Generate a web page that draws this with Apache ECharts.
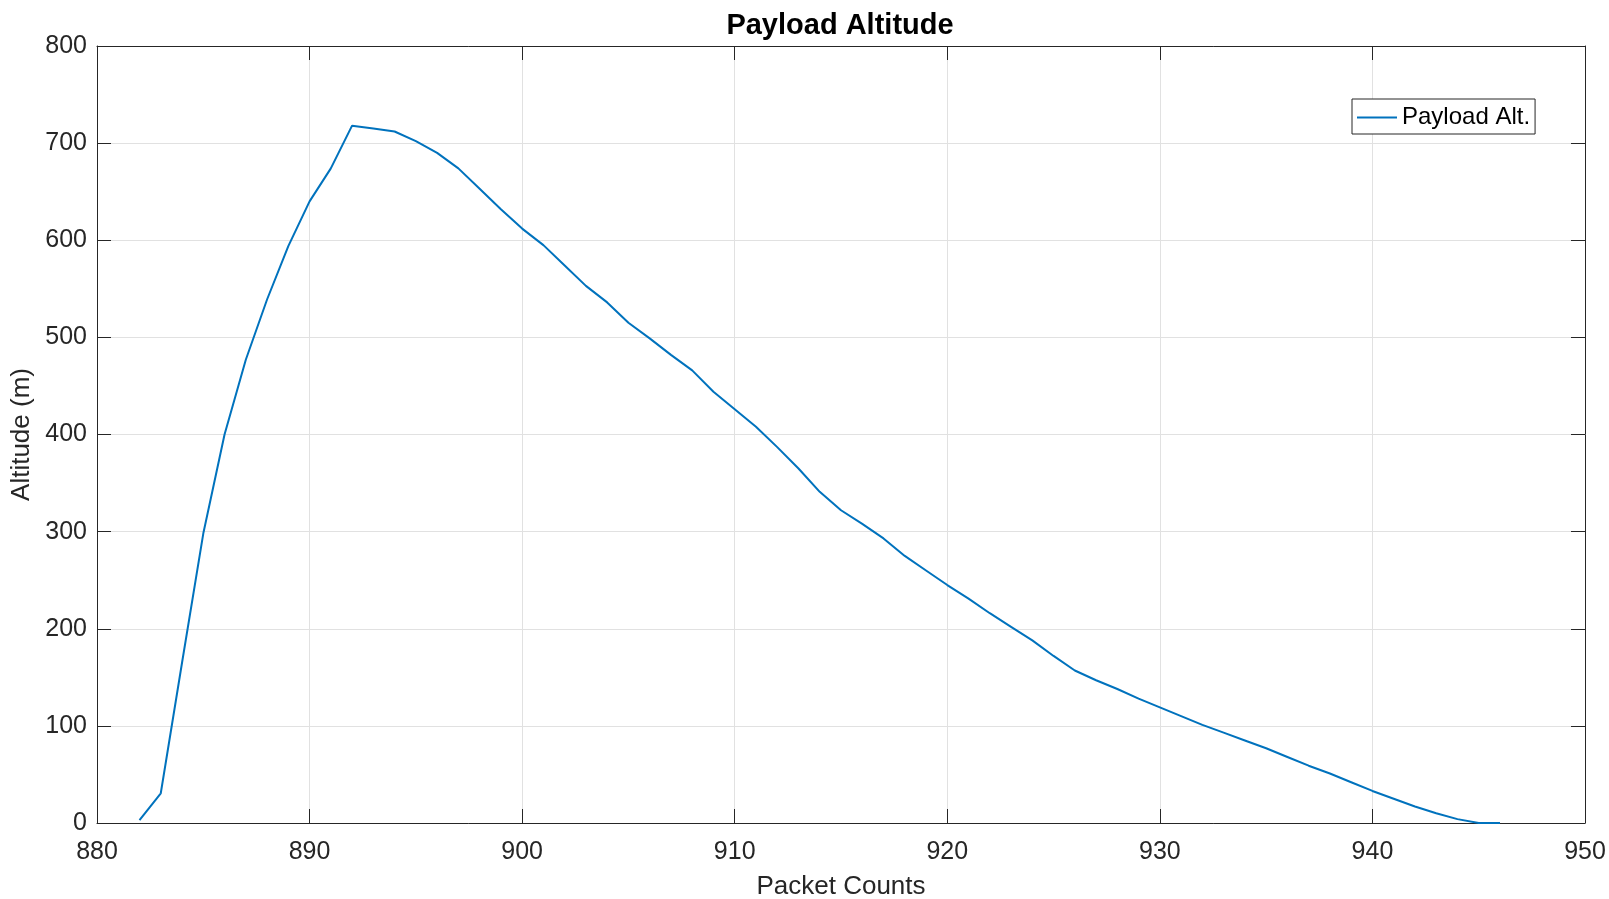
<!DOCTYPE html>
<html>
<head>
<meta charset="utf-8">
<script src="https://cdn.jsdelivr.net/npm/echarts@6/dist/echarts.min.js"></script>
<style>
html,body{margin:0;padding:0;background:#fff;}
#chart{width:1609px;height:899px;}
</style>
</head>
<body>
<div id="chart"></div>
<script>
const packetCounts = [882,883,884,885,886,887,888,889,890,891,892,893,894,895,896,897,898,899,900,901,902,903,904,905,906,907,908,909,910,911,912,913,914,915,916,917,918,919,920,921,922,923,924,925,926,927,928,929,930,931,932,933,934,935,936,937,938,939,940,941,942,943,944,945,946];
const altitude = [3,30.6,165,298,400,477,539,594,640,674,718,715,712,702,690,674,653,632,612,595,574,553,536,515,499,482,466,444,426,408,387,365,341,322,308,293,275,260,245,231,216,202,188,172,157,147,138,128,119,110,101,93,85,77,68,59,51,42,33,25,17,10,4,0,0];
const xTicks = [880,890,900,910,920,930,940,950];
const yTicks = [0,100,200,300,400,500,600,700,800];

const seriesData = packetCounts.map((x, i) => [x, altitude[i]]);
const axisColor = '#262626';
const font = "'Liberation Sans', Arial, Helvetica, sans-serif";

const chart = echarts.init(document.getElementById('chart'), null, {renderer: 'canvas'});
const baseX = {
  type: 'value', min: xTicks[0], max: xTicks[xTicks.length-1], interval: 10,
  axisLine: {show: true, onZero: false, lineStyle: {color: axisColor, width: 1}},
  axisTick: {show: true, inside: true, length: 14, lineStyle: {color: axisColor, width: 1}},
};
const baseY = {
  type: 'value', min: yTicks[0], max: yTicks[yTicks.length-1], interval: 100,
  axisLine: {show: true, onZero: false, lineStyle: {color: axisColor, width: 1}},
  axisTick: {show: true, inside: true, length: 14, lineStyle: {color: axisColor, width: 1}},
};
chart.setOption({
  animation: false,
  backgroundColor: '#ffffff',
  title: {
    text: 'Payload Altitude', left: 835, top: 6, textAlign: 'center',
    textStyle: {fontFamily: font, fontSize: 29, fontWeight: 'bold', color: '#000'}
  },
  grid: {left: 97, right: 24, top: 46, bottom: 76, containLabel: false, outerBoundsMode: 'none'},
  legend: {
    left: 1352, top: 99,
    padding: [5, 5, 3, 5],
    borderColor: axisColor, borderWidth: 1, backgroundColor: '#fff',
    itemWidth: 40, itemHeight: 2,
    textStyle: {fontFamily: font, fontSize: 24, color: '#000', lineHeight: 27},
    data: [{name: 'Payload Alt.', icon: 'rect'}]
  },
  xAxis: [
    Object.assign({}, baseX, {
      position: 'bottom',
      name: 'Packet Counts', nameLocation: 'middle', nameGap: 51,
      nameTextStyle: {fontFamily: font, fontSize: 26, color: axisColor},
      axisLabel: {show: true, margin: 17, fontFamily: font, fontSize: 25, color: axisColor},
      splitLine: {show: true, lineStyle: {color: '#e1e1e1', width: 1}}
    }),
    Object.assign({}, baseX, {
      position: 'top', axisLabel: {show: false}, splitLine: {show: false}
    })
  ],
  yAxis: [
    Object.assign({}, baseY, {
      position: 'left',
      name: 'Altitude (m)', nameLocation: 'middle', nameGap: 57,
      nameTextStyle: {fontFamily: font, fontSize: 26, color: axisColor},
      axisLabel: {show: true, margin: 10, fontFamily: font, fontSize: 25, color: axisColor},
      splitLine: {show: true, lineStyle: {color: '#e1e1e1', width: 1}}
    }),
    Object.assign({}, baseY, {
      position: 'right', axisLabel: {show: false}, splitLine: {show: false}
    })
  ],
  series: [{
    name: 'Payload Alt.', type: 'line', xAxisIndex: 0, yAxisIndex: 0,
    data: seriesData, showSymbol: false, symbol: 'none',
    lineStyle: {color: '#0072BD', width: 2},
    itemStyle: {color: '#0072BD'}
  }]
});
</script>
</body>
</html>
